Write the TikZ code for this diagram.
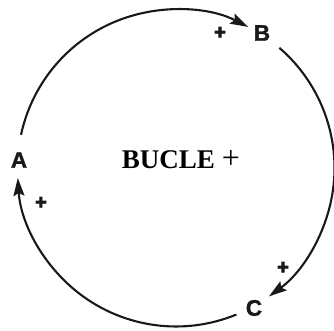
\documentclass[tikz,border=0pt]{standalone}
\usepackage{fontspec}
\setmainfont{Liberation Serif}
\newfontfamily\lblfont{Liberation Sans Bold}[FakeBold=1.5]
\newfontfamily\plusfont{Liberation Sans Bold}[FakeBold=4]
\usetikzlibrary{arrows.meta,calc}
\begin{document}
\begin{tikzpicture}[x=1pt,y=1pt,
  link/.style={line width=2.1pt,draw=black!90,-{Stealth[length=18pt,width=11pt,inset=3pt]}},
  varlbl/.style={font=\lblfont\fontsize{22.5}{22.5}\selectfont,inner sep=0pt,text=black!90},
  sign/.style={font=\plusfont\fontsize{20}{20}\selectfont,inner sep=0pt,text=black!90},
  title/.style={inner sep=0pt}]
\useasboundingbox (0,0) rectangle (334,331);
\coordinate (O) at (176,163);
\node[varlbl] (A) at (19,171) {A};
\node[varlbl] (B) at (262,298) {B};
\node[varlbl] (C) at (254,23) {C};
\node[sign] (pA) at (41,128) {+};
\node[sign] (pB) at (220,298) {+};
\node[sign] (pC) at (283,63) {+};
\node[title] (T) at (181,171) {\fontsize{27}{27}\selectfont\textbf{BUCLE}\hspace{7pt}{\fontsize{32}{32}\selectfont +}};
% A -> B
\draw[link] ($(O)+(167.9:158.5)$) coordinate (a1) arc[start angle=167.9,end angle=62.9,radius=158.5];
% B -> C
\draw[link] ($(O)+(49.3:158.5)$) coordinate (b1) arc[start angle=49.3,end angle=-54.1,radius=158.5];
% C -> A
\draw[link] ($(O)+(-67.6:158.5)$) coordinate (c1) arc[start angle=-67.6,end angle=-176.4,radius=158.5];
\end{tikzpicture}
\end{document}
